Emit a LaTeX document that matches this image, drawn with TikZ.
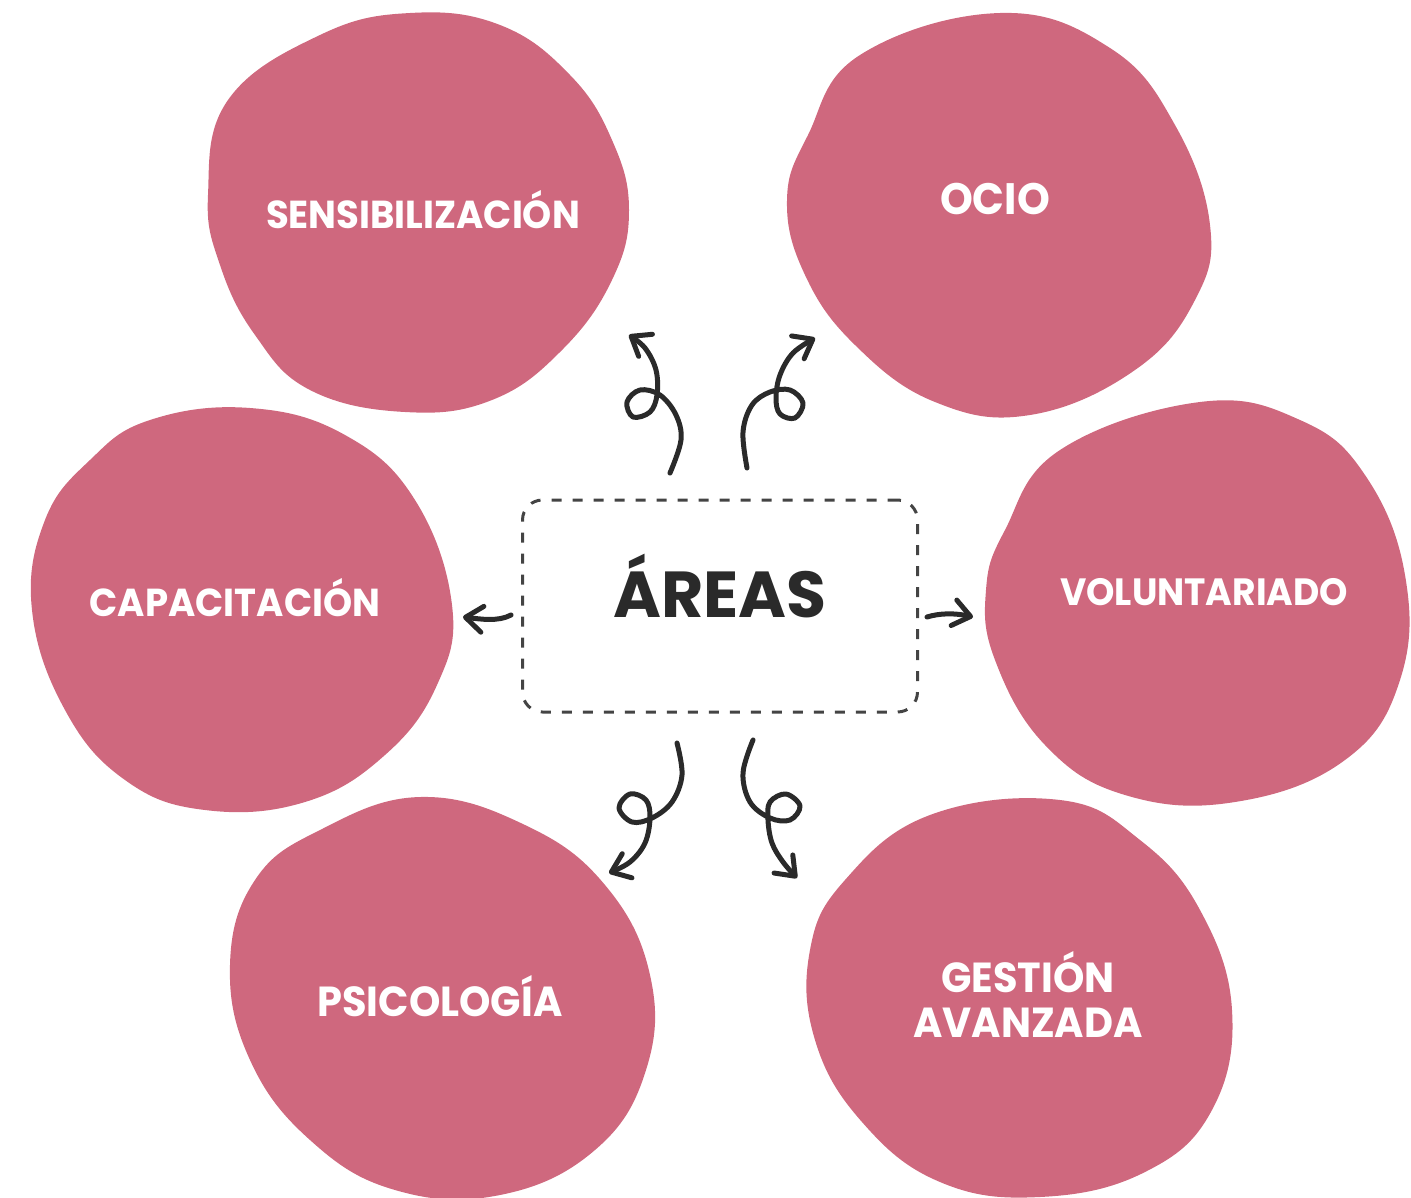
\documentclass[tikz,border=0pt]{standalone}
\usepackage{fontspec}
\newfontfamily\handfont[FakeStretch=0.95]{Poppins}
\newfontfamily\titlefont{Poppins}
\usetikzlibrary{arrows.meta}
\definecolor{blobpink}{HTML}{CF687E}
\definecolor{inkdark}{HTML}{2A2A2A}
\definecolor{dashgray}{HTML}{444444}
\newcommand{\labelsize}[1]{\handfont\bfseries\fontsize{#1}{#1}\selectfont}
\tikzset{
  blob/.style={fill=blobpink, draw=none},
  bloblabel/.style={text=white, font=\labelsize{39}, align=center},
  squiggle/.style={draw=inkdark, line width=5pt, line cap=round, line join=round,
    -{Straight Barb[length=17pt,width=26pt,line width=5pt,round]}},
  centerbox/.style={draw=dashgray, line width=3pt, dash pattern=on 10pt off 11pt,
    rounded corners=20pt, minimum width=395pt, minimum height=212pt},
}
\begin{document}
\begin{tikzpicture}[x=1pt,y=-1pt]
\useasboundingbox (0,0) rectangle (1411,1197);

% blobs
\path[blob] plot[smooth cycle, tension=0.7] coordinates {(410,13) (500,25) (570,75) (612,140) (629,210) (612,280) (562,350) (492,400) (405,412) (310,390) (255,335) (220,265) (208,195) (228,100) (320,35)};
\path[blob] plot[smooth cycle, tension=0.7] coordinates {(1000,13) (1110,48) (1175,125) (1210,225) (1195,300) (1135,370) (1030,415) (935,402) (855,345) (805,275) (787,200) (808,135) (860,55)};
\path[blob] plot[smooth cycle, tension=0.7] coordinates {(250,408) (345,435) (415,500) (452,605) (437,685) (385,755) (305,802) (205,810) (125,780) (65,710) (32,610) (45,520) (90,460) (150,420)};
\path[blob] plot[smooth cycle, tension=0.7] coordinates {(1200,402) (1300,420) (1365,475) (1405,575) (1400,680) (1345,760) (1235,802) (1125,795) (1045,745) (995,660) (986,590) (1005,530) (1060,450)};
\path[blob] plot[smooth cycle, tension=0.7] coordinates {(420,797) (525,825) (605,885) (650,975) (646,1070) (595,1150) (500,1195) (395,1190) (310,1140) (250,1060) (230,965) (255,880) (320,830)};
\path[blob] plot[smooth cycle, tension=0.7] coordinates {(1060,800) (1140,840) (1200,910) (1232,1010) (1212,1110) (1145,1172) (1040,1197) (940,1182) (862,1122) (815,1040) (810,950) (845,880) (930,815)};

% labels
\node[bloblabel] (sens) at (423,210) {SENSIBILIZACIÓN};
\node[bloblabel, font=\labelsize{44}] (ocio) at (995,199) {OCIO};
\node[bloblabel] (capa) at (235,598) {CAPACITACIÓN};
\node[bloblabel, font=\labelsize{38}] (volu) at (1204,592) {VOLUNTARIADO};
\node[bloblabel, font=\labelsize{42}] (psic) at (440,996) {PSICOLOGÍA};
\node[bloblabel, font=\handfont\bfseries\fontsize{42}{45}\selectfont] (gest) at (1028,994) {GESTIÓN\\AVANZADA};

% centre
\node[centerbox] (box) at (720,606) {};
\node[font=\titlefont\bfseries\fontsize{65}{68}\selectfont, text=inkdark] (areas) at (720,586) {ÁREAS};

% connector end points
\coordinate (a1s) at (670,473); \coordinate (a1e) at (629,335);
\coordinate (a2s) at (747,468); \coordinate (a2e) at (815,338);
\coordinate (a3s) at (677,743); \coordinate (a3e) at (609,873);
\coordinate (a4s) at (753,740); \coordinate (a4e) at (797,878);
\coordinate (a5s) at (511,615); \coordinate (a5e) at (463,617);
\coordinate (a6s) at (927,617); \coordinate (a6e) at (973,617);

\draw[squiggle] plot[smooth, tension=0.6] coordinates {(a1s) (681,440) (676,415) (660,395) (640,390) (627,402) (633,417) (650,412) (657,395) (656,370) (645,348) (a1e)};
\draw[squiggle] plot[smooth, tension=0.6] coordinates {(a2s) (743,432) (752,405) (770,392) (790,390) (803,403) (795,418) (780,414) (776,398) (780,375) (793,353) (a2e)};
\draw[squiggle] plot[smooth, tension=0.6] coordinates {(a3s) (682,775) (672,802) (652,818) (632,822) (619,808) (630,794) (646,800) (650,818) (645,843) (630,862) (a3e)};
\draw[squiggle] plot[smooth, tension=0.6] coordinates {(a4s) (743,773) (750,802) (770,818) (790,820) (800,806) (786,794) (770,802) (768,820) (772,843) (783,862) (a4e)};
\draw[squiggle] (a5s) .. controls (498,622) and (480,619) .. (a5e);
\draw[squiggle] (a6s) .. controls (940,613) and (955,613) .. (a6e);
\end{tikzpicture}
\end{document}
